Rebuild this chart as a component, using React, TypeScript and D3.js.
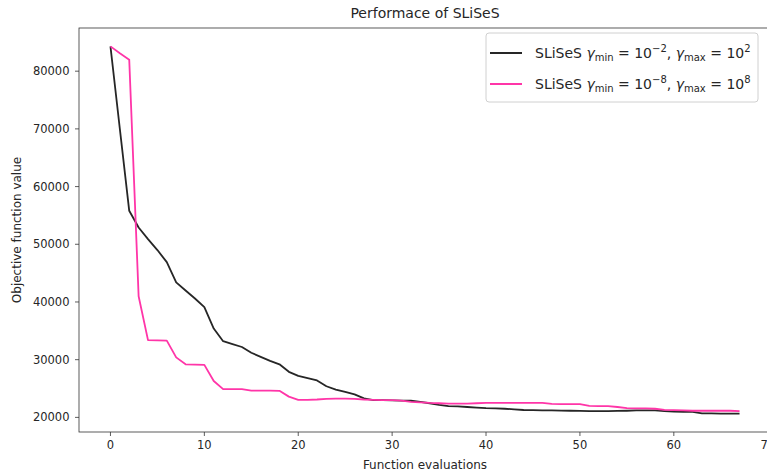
import React from "react";
import * as d3 from "d3";

const evaluations = d3.range(0, 68);

const blackValues = [
  84300, 70000, 55800, 52900, 50900, 49000, 46900, 43400, 42000, 40600,
  39100, 35400, 33200, 32700, 32200, 31200, 30500, 29800, 29200, 27900,
  27200, 26800, 26400, 25400, 24800, 24400, 24000, 23300, 23000, 23000,
  22950, 22900, 22880, 22700, 22450, 22150, 21950, 21900, 21800, 21700,
  21600, 21550, 21500, 21400, 21280, 21250, 21230, 21200, 21180, 21150,
  21120, 21100, 21100, 21100, 21120, 21150, 21200, 21200, 21200, 21100,
  21000, 20980, 20950, 20700, 20680, 20650, 20650, 20650,
];

const pinkValues = [
  84300, 83100, 82000, 41000, 33400, 33350, 33300, 30400, 29200, 29150,
  29100, 26300, 24900, 24900, 24900, 24650, 24650, 24650, 24600, 23600,
  23050, 23050, 23100, 23200, 23250, 23250, 23200, 23100, 23050, 23000,
  23000, 22900, 22700, 22600, 22500, 22450, 22400, 22400, 22400, 22450,
  22500, 22500, 22500, 22500, 22500, 22500, 22500, 22350, 22300, 22300,
  22300, 22000, 21950, 21950, 21800, 21600, 21550, 21550, 21500, 21300,
  21250, 21200, 21150, 21150, 21150, 21150, 21150, 21100,
];

const xTicks = [0, 10, 20, 30, 40, 50, 60, 70];
const yTicks = [20000, 30000, 40000, 50000, 60000, 70000, 80000];

const W = 767;
const H = 474;
const m = { left: 79, top: 28, right: 771, bottom: 432 };

export default function App() {
  const xMin = 0, xMax = 67;
  const xPad = (xMax - xMin) * 0.05;
  const allVals = [...blackValues, ...pinkValues];
  const yMin = d3.min(allVals)!;
  const yMax = d3.max(allVals)!;
  const yPad = (yMax - yMin) * 0.05;

  const x = d3.scaleLinear().domain([xMin - xPad, xMax + xPad]).range([m.left, m.right]);
  const y = d3.scaleLinear().domain([yMin - yPad, yMax + yPad]).range([m.bottom, m.top]);

  const line = d3
    .line<number>()
    .x((_, i) => x(evaluations[i]))
    .y((d) => y(d));

  const font = "'DejaVu Sans', sans-serif";
  const axisColor = "#333";
  const textColor = "#262626";

  const legendX = 486;
  const legendY = 33;

  const legendEntry = (yy: number, color: string, exp1: string, exp2: string) => (
    <g>
      <line x1={legendX + 4} x2={legendX + 36} y1={yy} y2={yy} stroke={color} strokeWidth={2} />
      <text x={legendX + 49} y={yy + 5} fontSize={14} fill={textColor} fontFamily={font}>
        <tspan>SLiSeS </tspan>
        <tspan fontStyle="italic">γ</tspan>
        <tspan fontSize={10} dy={3}>min</tspan>
        <tspan dy={-3}> = 10</tspan>
        <tspan fontSize={10} dy={-6}>{exp1}</tspan>
        <tspan dy={6}>, </tspan>
        <tspan fontStyle="italic">γ</tspan>
        <tspan fontSize={10} dy={3}>max</tspan>
        <tspan dy={-3}> = 10</tspan>
        <tspan fontSize={10} dy={-6}>{exp2}</tspan>
      </text>
    </g>
  );

  return (
    <div style={{ position: "fixed", left: 0, top: 0 }}>
      <svg width={W} height={H} style={{ display: "block", background: "#fff" }}>
        <defs>
          <clipPath id="plotclip">
            <rect x={m.left} y={m.top} width={m.right - m.left} height={m.bottom - m.top} />
          </clipPath>
        </defs>
        <text x={(m.left + m.right) / 2} y={18} textAnchor="middle" fontSize={14} fill={textColor} fontFamily={font}>
          Performace of SLiSeS
        </text>

        <g clipPath="url(#plotclip)">
          <path d={line(blackValues)!} fill="none" stroke="#262626" strokeWidth={1.8} strokeLinejoin="round" />
          <path d={line(pinkValues)!} fill="none" stroke="#ff35a8" strokeWidth={1.8} strokeLinejoin="round" />
        </g>

        <rect x={m.left} y={m.top} width={m.right - m.left} height={m.bottom - m.top} fill="none" stroke={axisColor} strokeWidth={0.8} />

        {xTicks.map((t) => (
          <g key={"x" + t}>
            <line x1={x(t)} x2={x(t)} y1={m.bottom} y2={m.bottom + 4} stroke={axisColor} strokeWidth={0.8} />
            <text x={x(t)} y={m.bottom + 16.5} textAnchor="middle" fontSize={11.5} fill={textColor} fontFamily={font}>
              {t}
            </text>
          </g>
        ))}
        {yTicks.map((t) => (
          <g key={"y" + t}>
            <line x1={m.left - 4} x2={m.left} y1={y(t)} y2={y(t)} stroke={axisColor} strokeWidth={0.8} />
            <text x={m.left - 9.5} y={y(t) + 4} textAnchor="end" fontSize={11.5} fill={textColor} fontFamily={font}>
              {t}
            </text>
          </g>
        ))}

        <text x={(m.left + m.right) / 2} y={469} textAnchor="middle" fontSize={12} fill={textColor} fontFamily={font}>
          Function evaluations
        </text>
        <text
          transform={`translate(21, ${(m.top + m.bottom) / 2}) rotate(-90)`}
          textAnchor="middle"
          fontSize={12}
          fill={textColor}
          fontFamily={font}
        >
          Objective function value
        </text>

        <rect x={legendX} y={legendY} width={272} height={69} rx={3} fill="#fff" fillOpacity={0.8} stroke="#d0d0d0" strokeWidth={1} />
        {legendEntry(legendY + 20, "#262626", "−2", "2")}
        {legendEntry(legendY + 51, "#ff35a8", "−8", "8")}
      </svg>
    </div>
  );
}
